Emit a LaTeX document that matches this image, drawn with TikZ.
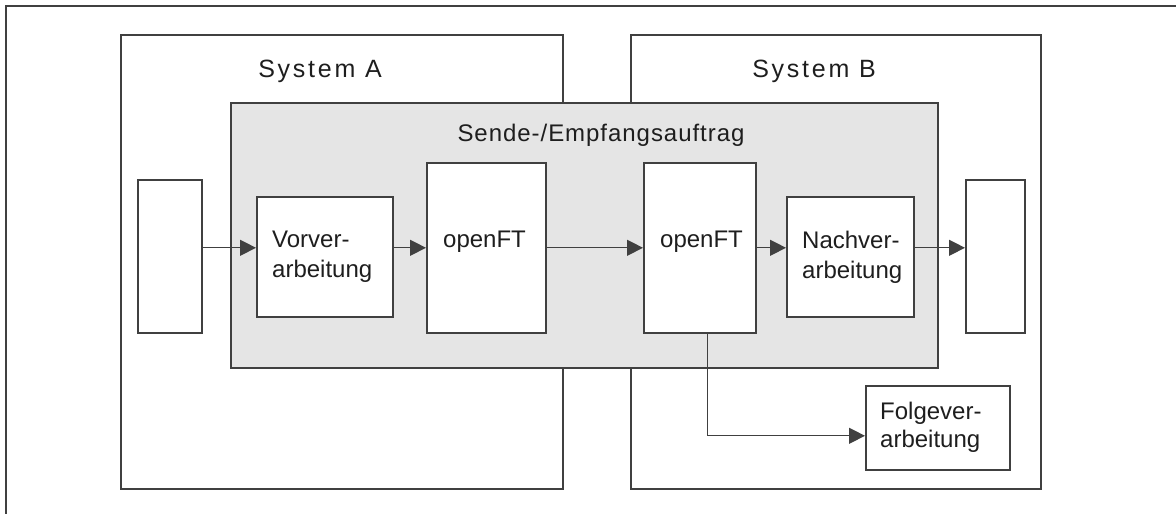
\documentclass[tikz,border=0pt]{standalone}
\usepackage{fontspec}
\setmainfont{Liberation Sans}
\usetikzlibrary{arrows.meta,calc}
\definecolor{lc}{HTML}{404040}
\definecolor{tc}{HTML}{1E1E1E}
\definecolor{gfill}{HTML}{E5E5E5}
\begin{document}
\begin{tikzpicture}[x=1pt,y=-1pt,
  box/.style={draw=lc, line width=1.6pt, fill=white, rectangle, inner sep=0pt, anchor=north west},
  graybox/.style={box, fill=gfill},
  lbl/.style={font=\fontsize{24}{30}\selectfont, align=left, inner sep=0pt, anchor=north west, text=tc},
  title/.style={font=\fontsize{25}{30}\selectfont\addfontfeature{LetterSpace=11}, inner sep=0pt, anchor=base, text=tc},
  subtitle/.style={font=\fontsize{24}{30}\selectfont\addfontfeature{LetterSpace=4}, inner sep=0pt, anchor=base, text=tc},
  arr/.style={draw=lc, line width=1.3pt, -{Triangle[length=16pt,width=16pt]}},
  frame/.style={draw=lc, line width=1.6pt}]
\useasboundingbox (0,0) rectangle (1176,514);
% outer frame (top and left only)
\coordinate (f0) at (6,6);
\coordinate (fr) at (1176,6);
\coordinate (fb) at (6,514);
\draw[frame] (fr) -- (f0) -- (fb);
% systems
\node (sa) [box, minimum width=442pt, minimum height=454pt] at (120,34) {};
\node (sb) [box, minimum width=410pt, minimum height=454pt] at (630,34) {};
\node (sat) [title] at (320,77) {System A};
\node (sbt) [title] at (814,77) {System B};
% job box
\node (job) [graybox, minimum width=707pt, minimum height=265pt] at (230,102) {};
\node (jobt) [subtitle] at (601,141) {Sende-/Empfangsauftrag};
% inner boxes
\node (lbox) [box, minimum width=64pt, minimum height=153pt] at (137,179) {};
\node (vor) [box, minimum width=136pt, minimum height=120pt] at (256,196) {};
\node (ft1) [box, minimum width=119pt, minimum height=170pt] at (426,162) {};
\node (ft2) [box, minimum width=112pt, minimum height=170pt] at (643,162) {};
\node (nach) [box, minimum width=127pt, minimum height=120pt] at (786,196) {};
\node (rbox) [box, minimum width=59pt, minimum height=153pt] at (965,179) {};
\node (folg) [box, minimum width=144pt, minimum height=84pt] at (865,385) {};
% labels
\node (vort) [lbl] at ($(vor.north west)+(16,35)$) {Vorver-\\arbeitung};
\node (ft1t) [lbl] at ($(ft1.north west)+(17,69)$) {openFT};
\node (ft2t) [lbl] at ($(ft2.north west)+(17,69)$) {openFT};
\node (nacht) [lbl] at ($(nach.north west)+(16,35)$) {Nachver-\\arbeitung};
\node (folgt) [lbl, font=\fontsize{24}{28}\selectfont] at ($(folg.north west)+(15,17)$) {Folgever-\\arbeitung};
% connectors
\draw[arr] (lbox.east |- ft1.east) -- (vor.west |- ft1.east);
\draw[arr] (vor.east |- ft1.east) -- (ft1.west);
\draw[arr] (ft1.east) -- (ft2.west);
\draw[arr] (ft2.east) -- (nach.west |- ft2.east);
\draw[arr] (nach.east |- ft2.east) -- (rbox.west |- ft2.east);
\draw[arr] ($(ft2.south)+(8,0)$) |- ($(folg.west)+(0,8)$);
\end{tikzpicture}
\end{document}
